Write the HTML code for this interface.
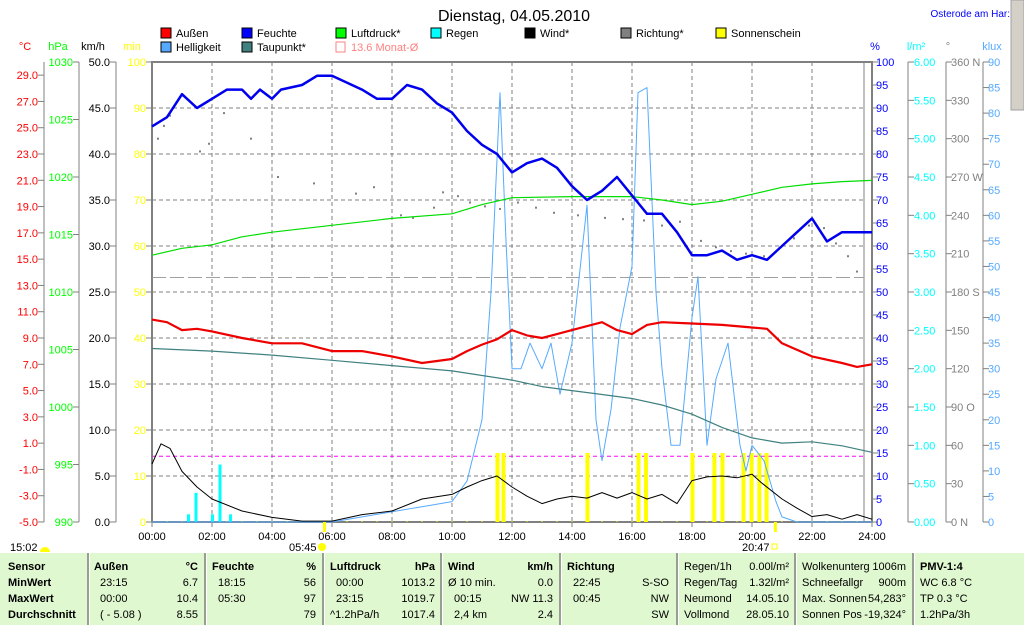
<!DOCTYPE html>
<html><head><meta charset="utf-8"><style>
html,body{margin:0;padding:0;background:#fff;}
svg{display:block;font-family:"Liberation Sans",sans-serif;}
</style></head><body>
<svg id="c" width="1024" height="625" viewBox="0 0 1024 625" xmlns="http://www.w3.org/2000/svg">
<rect x="0" y="0" width="1024" height="625" fill="#fff"/>
<text x="514" y="21" font-size="16" text-anchor="middle" fill="#000">Dienstag, 04.05.2010</text>
<text x="1010" y="17" font-size="10" text-anchor="end" fill="#0000ff">Osterode am Har:</text>
<rect x="1011" y="0" width="13" height="110" fill="#d4d0c8" stroke="#a0a0a0"/>
<g id="legend" font-size="11"></g>
<g id="grid"></g>
<g id="axes" font-size="11"></g>
<g id="series" font-size="11"></g>
<g id="bottom" font-size="11"></g>
</svg>
<script>
// ---- data ----
const humHours=[0,0.5,1,1.5,2,2.5,3,3.3,3.6,4,4.3,5,5.5,6,7,7.5,8,8.5,9,9.5,10,10.5,11,11.5,12,12.5,13,13.5,14,14.5,15,15.5,16,16.5,17,17.5,18,18.5,19,19.5,20,20.5,21,21.5,22,22.5,23,23.5,24];
const humVals=[86,88,93,90,92,94,94,92,94,92,94,95,97,97,94,92,92,95,94,91,89,85,82,80,76,78,79,77,73,70,72,75,71,67,67,63,58,58,59,57,58,57,60,63,66,61,63,63,63];
const presHours=[0,1,2,3,4,6,8,10,11,12,14,16,17,18,19,20,21,22,23,24];
const presVals=[1013.2,1013.8,1014.1,1014.8,1015.2,1015.8,1016.4,1016.8,1017.6,1018.2,1018.3,1018.3,1018.0,1017.6,1017.9,1018.5,1019.1,1019.4,1019.6,1019.7];
const tempHours=[0,0.5,1,1.5,2,3,4,5,6,7,8,9,10,10.5,11,11.5,12,12.5,13,13.5,14,15,15.5,16,16.5,17,18,19,20,20.5,21,22,23,23.5,24];
const tempVals=[10.4,10.2,9.6,9.7,9.5,9.0,8.6,8.6,8.0,8.0,7.6,7.1,7.4,8.0,8.5,8.9,9.6,9.2,9.0,9.3,9.6,10.2,9.6,9.3,10.0,10.2,10.1,10.0,9.8,9.7,8.6,7.6,7.1,6.8,7.0];
const dewHours=[0,2,4,6,8,10,12,13,14,15,16,17,18,19,20,21,22,23,24];
const dewVals=[8.2,8.0,7.7,7.3,6.9,6.5,5.8,5.3,5.0,4.7,4.4,3.9,3.2,2.2,1.4,1.0,1.1,0.8,0.3];
const windHours=[0,0.3,0.6,1,1.5,2,3,4,5,6,7,8,9,10,10.5,11,11.5,12,12.5,13,13.5,14,14.5,15,15.5,16,16.5,17,17.5,18,18.5,19,19.5,20,20.3,21,21.5,22,22.5,23,23.5,24];
const windVals=[6.3,8.5,8.0,5.5,3.8,2.5,1.2,0.5,0.1,0.1,0.8,1.2,2.5,3.0,3.8,4.5,5.0,3.8,2.8,2.0,2.5,2.8,2.6,3.2,2.6,3.2,2.5,3.0,2.0,4.5,4.9,5.0,4.8,5.2,4.3,2.5,1.5,0.6,0.8,0.3,0.8,0.3];
const luxHours=[0,6,7,8,9,10,10.5,11,11.3,11.6,11.8,12,12.3,12.6,13,13.3,13.6,14,14.5,14.8,15,15.3,15.6,16,16.2,16.5,16.8,17,17.3,17.6,18,18.2,18.5,18.8,19.2,19.6,19.8,20,20.4,20.8,21,21.5,24];
const luxVals=[0,0,1,2,3,4,8,20,45,84,55,30,30,35,30,35,25,35,62,20,12,22,38,50,84,85,45,30,15,15,40,48,15,28,35,15,10,15,12,4,1,0,0];
const rainHours=[1.2,1.45,2.0,2.25,2.6];
const rainVals=[0.1,0.38,0.1,0.75,0.1];
const sunHours=[11.5,11.7,14.5,16.2,16.45,18.0,18.73,19.0,19.7,19.97,20.23,20.47];
const sunVals=[15,15,15,15,15,15,15,15,15,15,15,15];
const dirHours=[0.2,0.4,0.6,1.6,1.9,2.4,3.3,4.2,5.4,6.8,7.4,8.3,8.7,9.4,9.7,10.2,10.6,11.1,11.6,12.2,12.8,13.4,14.2,15.1,15.7,16.4,17.0,17.6,18.3,18.8,19.3,19.8,20.4,20.9,21.4,21.9,22.4,22.8,23.2,23.5];
const dirVals=[300,310,318,290,296,320,300,270,265,257,262,240,238,246,258,255,250,247,245,250,246,242,240,238,237,236,232,235,220,215,212,210,208,214,222,232,230,218,208,196];
// tick labels
const cTicks=[29,27,25,23,21,19,17,15,13,11,9,7,5,3,1,-1,-3,-5];
const hpaTicks=[1030,1025,1020,1015,1010,1005,1000,995,990];
const kmhTicks=[50,45,40,35,30,25,20,15,10,5,0];
const minTicks=[100,90,80,70,60,50,40,30,20,10,0];
const pctTicks=[100,95,90,85,80,75,70,65,60,55,50,45,40,35,30,25,20,15,10,5,0];
const rainTicks=[6,5.5,5,4.5,4,3.5,3,2.5,2,1.5,1,0.5,0];
const dirTicks=["360 N","330","300","270 W","240","210","180 S","150","120","90 O","60","30","0 N"];
const luxTicks=[90,85,80,75,70,65,60,55,50,45,40,35,30,25,20,15,10,5,0];
const timeLabels=["00:00","02:00","04:00","06:00","08:00","10:00","12:00","14:00","16:00","18:00","20:00","22:00","24:00"];

// ---- scales ----
const X0=152,PX=30,YT=62,YB=522,H=YB-YT;
const xS=h=>X0+PX*h;
const yLin=(v,lo,hi)=>YB-(v-lo)/(hi-lo)*H;
const yHum=v=>yLin(v,0,100), yP=v=>yLin(v,990,1030), yT=v=>yLin(v,-5,30), yW=v=>yLin(v,0,50),
      yL=v=>yLin(v,0,90), yR=v=>yLin(v,0,6), yM=v=>yLin(v,0,100), yD=v=>yLin(v,0,360);
const NS="http://www.w3.org/2000/svg";
function mk(tag,attrs,parent,txt){const e=document.createElementNS(NS,tag);for(const k in attrs)e.setAttribute(k,attrs[k]);if(txt!==undefined)e.textContent=txt;parent.appendChild(e);return e;}
const G=id=>document.getElementById(id);

// legend
const leg=[["Außen","#ff0000",176,37],["Feuchte","#0000ff",257,37],["Luftdruck*","#00ff00",351,37],["Regen","#00ffff",446,37],["Wind*","#000000",540,37],["Richtung*","#808080",636,37],["Sonnenschein","#ffff00",731,37],["Helligkeit","#55aaff",176,51],["Taupunkt*","#408080",257,51]];
leg.forEach(l=>{
  const r=mk('rect',{x:l[2]-15,y:l[3]-9,width:10,height:10,fill:l[1],stroke:'#000'},G('legend'));
  
  
  const t=mk('text',{x:l[2],y:l[3]},G('legend'),l[0]);
  
  
});
const mr=mk('rect',{x:351-15,y:51-9,width:9,height:10,fill:'none',stroke:'#ff8080'},G('legend'));


const mt=mk('text',{x:351,y:51,fill:'#ff8080'},G('legend'),'13.6 Monat-Ø');



// grid
const g=G('grid');
for(let v=10;v<100;v+=10){const l=mk('line',{x1:X0,x2:864,y1:yHum(v),y2:yHum(v),stroke:'#808080','stroke-dasharray':'4,3'},g);}
for(let h=2;h<24;h+=2){const l=mk('line',{x1:xS(h),x2:xS(h),y1:YT,y2:YB,stroke:'#808080','stroke-dasharray':'4,3'},g);}
const fr=mk('path',{d:`M${X0},${YB}V${YT}H872V${YB}`,fill:'none',stroke:'#808080','stroke-width':2},g);


mk('line',{x1:864,x2:864,y1:YT,y2:YB,stroke:'#808080'},g);
const bl=mk('line',{x1:X0,x2:872,y1:YB,y2:YB,stroke:'#808080','stroke-width':2},g);


const avg=mk('line',{x1:X0,x2:864,y1:yT(13.6),y2:yT(13.6),stroke:'#a0a0a0','stroke-dasharray':'14,4'},g);


const zl=mk('line',{x1:X0,x2:864,y1:yT(0),y2:yT(0),stroke:'#ff00ff','stroke-dasharray':'4,3'},g);



// axes
const ax=G('axes');
function axis(name,lineX,ticks,yFn,vals,color,labelX,anchor,tickDir,unit,unitX){
  const a=mk('g',{},ax);
  
  
  mk('line',{x1:lineX,x2:lineX,y1:YT,y2:YB,stroke:'#808080'},a);
  ticks.forEach((t,i)=>{const y=yFn(vals[i]);
    mk('line',{x1:lineX,x2:lineX+tickDir*6,y1:y,y2:y,stroke:'#808080'},a);
    mk('text',{x:labelX,y:y+4,fill:color,'text-anchor':anchor},a,t);
  });
  const u=mk('text',{x:unitX,y:50,fill:color,'text-anchor':'middle'},a,unit);
  
  
}
axis('celsius-axis',44,cTicks.map(v=>v.toFixed(1)),yT,cTicks,'#ff0000',38,'end',-1,'°C',25);
axis('hpa-axis',79,hpaTicks,yP,hpaTicks,'#00ff00',73,'end',-1,'hPa',58);
axis('kmh-axis',116,kmhTicks.map(v=>v.toFixed(1)),yW,kmhTicks,'#000000',110,'end',-1,'km/h',93);
axis('min-axis',X0,minTicks,yM,minTicks,'#ffff00',146,'end',-1,'min',132);
axis('percent-axis',872,pctTicks,yHum,pctTicks,'#0000ff',876,'start',1,'%',875);
axis('rain-axis',908,rainTicks.map(v=>v.toFixed(2)),yR,rainTicks,'#00ffff',914,'start',1,'l/m²',916);
const dv=[360,330,300,270,240,210,180,150,120,90,60,30,0];
axis('direction-axis',946,dirTicks,yD,dv,'#808080',951,'start',1,'°',948);
axis('klux-axis',983,luxTicks,yL,luxTicks,'#55aaff',988,'start',1,'klux',992);
timeLabels.forEach((t,i)=>{const x=xS(i*2);
  mk('line',{x1:x,x2:x,y1:YB,y2:YB+5,stroke:'#808080'},ax);
  const tx=mk('text',{x:x,y:540,'text-anchor':'middle'},ax,t);
  
  
});
for(let h=0.5;h<24;h+=0.5){mk('line',{x1:xS(h),x2:xS(h),y1:YB-1,y2:YB,stroke:'#ffff00'},ax);}

// series
const s=G('series');
function line(name,hs,vs,yFn,color,w){
  const d=hs.map((h,i)=>(i?'L':'M')+xS(h).toFixed(1)+','+yFn(vs[i]).toFixed(1)).join('');
  const p=mk('path',{d:d,fill:'none',stroke:color,'stroke-width':w,'stroke-linejoin':'round'},s);
  
  
}
rainHours.forEach((h,i)=>{const y=yR(rainVals[i]);
  const r=mk('rect',{x:xS(h)-1,y:y,width:3,height:YB-y,fill:'#00ffff'},s);
  
  
});
sunHours.forEach((h,i)=>{const y=yM(sunVals[i]);
  const r=mk('rect',{x:xS(h)-1.5,y:y,width:4,height:YB-y,fill:'#ffff00'},s);
  
  
});
dirHours.forEach((h,i)=>{
  const r=mk('rect',{x:xS(h)-1,y:yD(dirVals[i])-1,width:2,height:2,fill:'#808080'},s);
  
  
});
line('brightness-line',luxHours,luxVals,yL,'#55aaff',1);
line('dewpoint-line',dewHours,dewVals,yT,'#408080',1.2);
line('pressure-line',presHours,presVals,yP,'#00dd00',1.2);
line('wind-line',windHours,windVals,yW,'#000000',1);
line('temperature-line',tempHours,tempVals,yT,'#ee0000',2.2);
line('humidity-line',humHours,humVals,yHum,'#0000ee',2.5);
const sr=mk('line',{x1:xS(5.75),x2:xS(5.75),y1:YB,y2:YB+10,stroke:'#ffff00','stroke-width':3},s);


const ss=mk('line',{x1:xS(20.78),x2:xS(20.78),y1:YB,y2:YB+10,stroke:'#ffff00','stroke-width':3},s);


mk('text',{x:10,y:551},s,'15:02');
mk('path',{d:'M40,552 a5,5 0 0 1 10,0 z',fill:'#ffff00'},s);
mk('text',{x:289,y:551},s,'05:45');
mk('circle',{cx:322,cy:547,r:4,fill:'#ffff00'},s);
mk('text',{x:742,y:551},s,'20:47');
mk('rect',{x:772,y:544,width:5,height:5,fill:'none',stroke:'#ffff00'},s);

// bottom panel
const b=G('bottom');
const pn=mk('rect',{x:0,y:553,width:1024,height:72,fill:'#e0f8d0'},b);


[88,205,323,441,560,677,795,913].forEach(x=>{mk('line',{x1:x,x2:x,y1:553,y2:625,stroke:'#808080','stroke-width':1.5},b);mk('line',{x1:x+1.5,x2:x+1.5,y1:553,y2:625,stroke:'#fff'},b);});
const rows=[570,586,602,618];
function cell(x,r,t,anchor,bold){mk('text',{x:x,y:rows[r],'text-anchor':anchor||'start','font-weight':bold?'bold':'normal'},b,t);}
['Sensor','MinWert','MaxWert','Durchschnitt'].forEach((t,i)=>cell(8,i,t,'start',true));
cell(94,0,'Außen','start',true);cell(198,0,'°C','end',true);
cell(100,1,'23:15');cell(198,1,'6.7','end');cell(100,2,'00:00');cell(198,2,'10.4','end');cell(100,3,'( - 5.08 )');cell(198,3,'8.55','end');
cell(212,0,'Feuchte','start',true);cell(316,0,'%','end',true);
cell(218,1,'18:15');cell(316,1,'56','end');cell(218,2,'05:30');cell(316,2,'97','end');cell(316,3,'79','end');
cell(330,0,'Luftdruck','start',true);cell(435,0,'hPa','end',true);
cell(336,1,'00:00');cell(435,1,'1013.2','end');cell(336,2,'23:15');cell(435,2,'1019.7','end');cell(330,3,'^1.2hPa/h');cell(435,3,'1017.4','end');
cell(448,0,'Wind','start',true);cell(553,0,'km/h','end',true);
cell(448,1,'Ø 10 min.');cell(553,1,'0.0','end');cell(454,2,'00:15');cell(553,2,'NW 11.3','end');cell(454,3,'2,4 km');cell(553,3,'2.4','end');
cell(567,0,'Richtung','start',true);
cell(573,1,'22:45');cell(669,1,'S-SO','end');cell(573,2,'00:45');cell(669,2,'NW','end');cell(669,3,'SW','end');
cell(684,0,'Regen/1h');cell(789,0,'0.00l/m²','end');cell(684,1,'Regen/Tag');cell(789,1,'1.32l/m²','end');
cell(684,2,'Neumond');cell(789,2,'14.05.10','end');cell(684,3,'Vollmond');cell(789,3,'28.05.10','end');
cell(802,0,'Wolkenunterg');cell(906,0,'1006m','end');cell(802,1,'Schneefallgr');cell(906,1,'900m','end');
cell(802,2,'Max. Sonnen');cell(906,2,'54,283°','end');cell(802,3,'Sonnen Pos');cell(906,3,'-19,324°','end');
cell(920,0,'PMV-1:4','start',true);cell(920,1,'WC 6.8 °C');cell(920,2,'TP 0.3 °C');cell(920,3,'1.2hPa/3h');
</script>
</body></html>
